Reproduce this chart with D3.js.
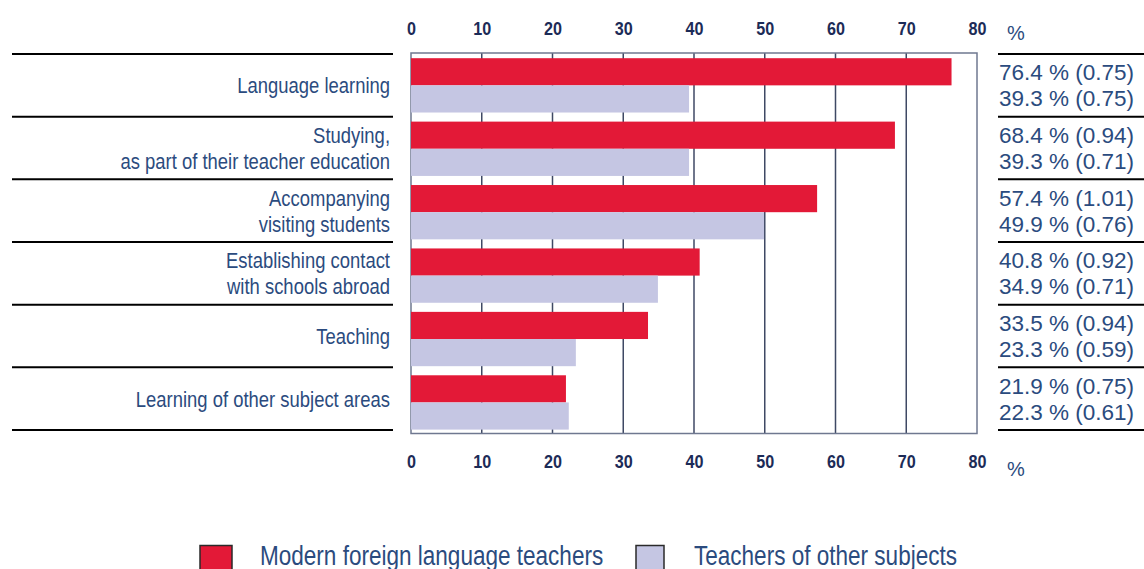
<!DOCTYPE html>
<html>
<head>
<meta charset="utf-8">
<script src="https://cdn.jsdelivr.net/npm/d3@7/dist/d3.min.js"></script>
<style>
  html, body { margin: 0; padding: 0; background: #fff; }
  svg { display: block; }
  text { font-family: "Liberation Sans", Arial, sans-serif; }
</style>
</head>
<body>
<svg id="chart" width="1144" height="569"></svg>
<script>
// Activities carried out abroad, share of teachers (%) with standard errors
const categories = [
  ["Language learning"],
  ["Studying,", "as part of their teacher education"],
  ["Accompanying", "visiting students"],
  ["Establishing contact", "with schools abroad"],
  ["Teaching"],
  ["Learning of other subject areas"]
];
const seriesNames = ["Modern foreign language teachers", "Teachers of other subjects"];
const languageTeachers = [76.4, 68.4, 57.4, 40.8, 33.5, 21.9];
const languageTeachersSE = ["0.75", "0.94", "1.01", "0.92", "0.94", "0.75"];
const otherTeachers = [39.3, 39.3, 49.9, 34.9, 23.3, 22.3];
const otherTeachersSE = ["0.75", "0.71", "0.76", "0.71", "0.59", "0.61"];
const xTicks = [0, 10, 20, 30, 40, 50, 60, 70, 80];

const colors = ["#e31937", "#c5c6e3"];
const textColor = "#2b4b7e";
const tickColor = "#1c2b57";
// condensed lettering: regular face squeezed horizontally
const narrow = 0.82;

const svg = d3.select("#chart");
const plot = { left: 411, right: 977, top: 53, bottom: 433.5 };

const x = d3.scaleLinear().domain([0, 80]).range([plot.left, plot.right]);
const keys = categories.map((c, i) => i);

// rows for the bars
const yRow = d3.scaleBand().domain(keys).range([plot.top, plot.bottom]);
// bar pair inside each row
const ySub = d3.scaleBand().domain([0, 1]).range([5.2, yRow.bandwidth() - 3.9]);
// rows for the side tables (separators and labels)
const yTable = d3.scaleBand().domain(keys).range([54, 430]);

// vertical grid lines
svg.append("g")
  .selectAll("line")
  .data(xTicks.slice(1, -1))
  .join("line")
  .attr("x1", d => x(d)).attr("x2", d => x(d))
  .attr("y1", plot.top).attr("y2", plot.bottom)
  .attr("stroke", "#3f4964").attr("stroke-width", 1.5);

// plot frame
svg.append("rect")
  .attr("x", plot.left).attr("y", plot.top)
  .attr("width", plot.right - plot.left).attr("height", plot.bottom - plot.top)
  .attr("fill", "none").attr("stroke", "#6f7890").attr("stroke-width", 1.5);

// bars
const rows = svg.append("g").selectAll("g")
  .data(keys)
  .join("g")
  .attr("transform", i => `translate(0,${yRow(i)})`);

rows.selectAll("rect")
  .data(i => [languageTeachers[i], otherTeachers[i]])
  .join("rect")
  .attr("x", x(0))
  .attr("y", (d, j) => ySub(j))
  .attr("width", d => x(d) - x(0))
  .attr("height", ySub.bandwidth())
  .attr("fill", (d, j) => colors[j]);

// top and bottom axes
function styleAxis(g) {
  g.select(".domain").remove();
  g.selectAll(".tick line").remove();
  g.selectAll(".tick text")
    .attr("fill", tickColor)
    .attr("transform", `scale(${narrow + 0.03},1)`)
    .style("font-family", "'Liberation Sans', Arial, sans-serif")
    .style("font-size", "19px")
    .style("font-weight", "bold");
}
svg.append("g")
  .attr("transform", `translate(0,${plot.top - 18})`)
  .call(d3.axisTop(x).tickValues(xTicks).tickSize(0).tickPadding(0))
  .call(styleAxis);
svg.append("g")
  .attr("transform", `translate(0,${plot.bottom + 21})`)
  .call(d3.axisBottom(x).tickValues(xTicks).tickSize(0).tickPadding(0))
  .call(styleAxis);

// unit labels
[40, 476].forEach(yy => {
  svg.append("text")
    .attr("x", 1007).attr("y", yy)
    .attr("fill", textColor)
    .style("font-size", "20px")
    .text("%");
});

// separators of both side tables
const seps = yTable.domain().map(i => yTable(i)).concat([yTable.range()[1]]);
svg.append("g").selectAll("line")
  .data(seps)
  .join("line")
  .attr("x1", 12).attr("x2", 393)
  .attr("y1", d => d).attr("y2", d => d)
  .attr("stroke", "#000").attr("stroke-width", 2);
svg.append("g").selectAll("line")
  .data(seps)
  .join("line")
  .attr("x1", 998).attr("x2", 1144)
  .attr("y1", d => d).attr("y2", d => d)
  .attr("stroke", "#000").attr("stroke-width", 2);

// category labels, right-aligned against the plot
const lineGap = 26;
svg.append("g")
  .attr("transform", `translate(390,0) scale(${narrow},1)`)
  .selectAll("text")
  .data(keys)
  .join("text")
  .attr("text-anchor", "end")
  .attr("fill", textColor)
  .style("font-size", "22.5px")
  .each(function (i) {
    const lines = categories[i];
    const mid = yTable(i) + yTable.bandwidth() / 2;
    const start = mid - (lines.length - 1) * lineGap / 2;
    d3.select(this).selectAll("tspan")
      .data(lines)
      .join("tspan")
      .attr("x", 0)
      .attr("y", (t, k) => start + k * lineGap)
      .attr("dy", "0.35em")
      .text(t => t);
  });

// value labels
svg.append("g").selectAll("text")
  .data(keys)
  .join("text")
  .attr("fill", textColor)
  .style("font-size", "22.5px")
  .each(function (i) {
    const mid = yTable(i) + yTable.bandwidth() / 2;
    const lines = [
      `${languageTeachers[i].toFixed(1)} % (${languageTeachersSE[i]})`,
      `${otherTeachers[i].toFixed(1)} % (${otherTeachersSE[i]})`
    ];
    d3.select(this).selectAll("tspan")
      .data(lines)
      .join("tspan")
      .attr("x", 999)
      .attr("y", (t, k) => mid + (k - 0.5) * lineGap)
      .attr("dy", "0.35em")
      .text(t => t);
  });

// legend
const legendItems = [
  { name: seriesNames[0], color: colors[0], box: 200, text: 260, w: 32 },
  { name: seriesNames[1], color: colors[1], box: 636, text: 694, w: 28 }
];
const legend = svg.append("g");
legend.selectAll("rect")
  .data(legendItems)
  .join("rect")
  .attr("x", d => d.box).attr("y", 545.5)
  .attr("width", d => d.w).attr("height", 30)
  .attr("fill", d => d.color)
  .attr("stroke", "#2a2a2a").attr("stroke-width", 1.5);
legend.selectAll("text")
  .data(legendItems)
  .join("text")
  .attr("transform", d => `translate(${d.text},565) scale(${narrow},1)`)
  .attr("fill", textColor)
  .style("font-size", "27.5px")
  .text(d => d.name);
</script>
</body>
</html>
